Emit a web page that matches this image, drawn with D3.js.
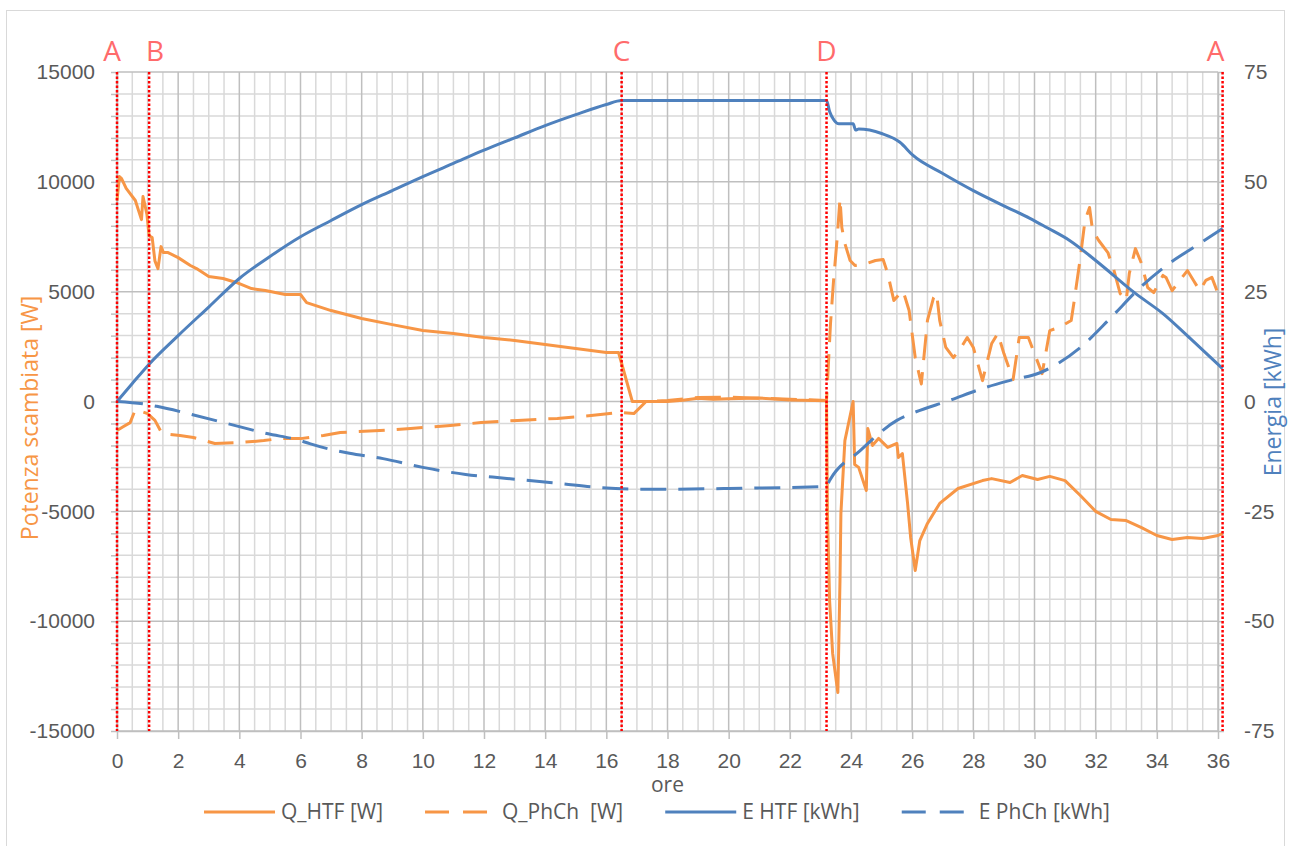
<!DOCTYPE html>
<html>
<head>
<meta charset="utf-8">
<script src="https://cdn.jsdelivr.net/npm/d3@7"></script>
<style>
    html, body { margin: 0; padding: 0; background: #fff; }
    svg { display: block; font-family: "Open Sans", sans-serif; }
</style>
</head>
<body>
<svg id="chart" width="1292" height="846"></svg>
<script>
// --- Data (hours, value) ---
const qHtf = [
    [0, 9150], [0.08, 10240], [0.15, 10150], [0.3, 9700], [0.6, 9150], [0.8, 8280], [0.85, 9330],
    [0.92, 8900], [0.98, 8500], [1.05, 7550], [1.15, 7460], [1.24, 6400], [1.34, 6050], [1.44, 7050],
    [1.52, 6780], [1.67, 6780], [2.0, 6550], [2.4, 6190], [2.6, 6050], [3.0, 5690], [3.47, 5600],
    [3.9, 5420], [4.4, 5140], [4.85, 5050], [5.5, 4870], [6.0, 4870], [6.2, 4500], [7, 4140],
    [8, 3780], [9, 3500], [10, 3230], [11, 3100], [12, 2910], [13, 2780], [14, 2590], [15, 2410],
    [16, 2230], [16.4, 2230], [16.85, 0], [18, 0], [18.5, 60], [19, 150], [19.5, 100], [20, 120],
    [21, 160], [22, 70], [23.2, 30], [23.23, -5100], [23.3, -9060], [23.4, -11470], [23.57, -13250],
    [23.64, -8150], [23.67, -5100], [23.8, -1780], [24.07, 0], [24.12, -2870], [24.25, -3000],
    [24.5, -4050], [24.55, -1230], [24.7, -2000], [24.9, -1680], [25.2, -2090], [25.5, -1910],
    [25.55, -2550], [25.68, -2370], [25.85, -4640], [25.95, -6190], [26.1, -7690], [26.25, -6330],
    [26.5, -5550], [26.9, -4640], [27.5, -3960], [28.3, -3600], [28.6, -3510], [29.2, -3690],
    [29.6, -3370], [30.1, -3550], [30.5, -3410], [31, -3600], [31.5, -4280], [32, -5000],
    [32.5, -5370], [33, -5420], [33.5, -5740], [34, -6100], [34.5, -6280], [35, -6190],
    [35.5, -6240], [36, -6100], [36.15, -6000]
];

const qPhCh = [
    [0, -1320], [0.2, -1150], [0.43, -960], [0.6, -360], [1.0, -550], [1.24, -860], [1.47, -1460],
    [2.06, -1550], [2.5, -1640], [3.2, -1910], [4.0, -1870], [4.8, -1780], [5.3, -1690], [6, -1690],
    [6.75, -1550], [7.3, -1410], [8.6, -1320], [9.6, -1230], [10.9, -1090], [11.9, -960],
    [13.1, -860], [14.4, -770], [15.5, -640], [16.45, -500], [16.9, -550], [17.3, 0], [18, 50],
    [19, 180], [20, 200], [21, 150], [22, 100], [23.2, 50], [23.25, 1400], [23.33, 3550],
    [23.43, 5510], [23.55, 7470], [23.64, 9240], [23.7, 7920], [23.8, 7190], [23.97, 6420],
    [24.13, 6190], [24.5, 6280], [24.8, 6420], [25.05, 6460], [25.2, 5830], [25.4, 4600],
    [25.6, 4920], [25.7, 5050], [25.9, 4140], [26.1, 2000], [26.3, 800], [26.5, 3690], [26.7, 4730],
    [26.8, 4920], [26.9, 3690], [27.1, 2460], [27.35, 2000], [27.6, 2460], [27.8, 2910],
    [28.0, 2460], [28.3, 950], [28.6, 2640], [28.8, 3100], [29.0, 2180], [29.3, 1000], [29.5, 2910],
    [29.8, 2910], [30.25, 1270], [30.5, 3230], [30.8, 3370], [31.2, 3690], [31.3, 4600],
    [31.5, 6550], [31.65, 8240], [31.8, 8830], [31.9, 7780], [32.1, 7330], [32.4, 6780],
    [32.6, 5960], [32.8, 4920], [33.0, 4600], [33.1, 5830], [33.3, 6960], [33.5, 6280],
    [33.7, 5190], [33.9, 4960], [34.2, 5740], [34.3, 5650], [34.5, 5050], [34.8, 5600],
    [35.0, 5960], [35.2, 5510], [35.4, 5050], [35.6, 5510], [35.8, 5650], [36.0, 4920], [36.15, 4730]
];

const eHtf = [
    [0, 0], [0.5, 4.1], [1.05, 8.5], [2, 15], [3, 21.5], [4, 28], [5, 33], [6, 37.5], [7, 41.2],
    [8, 44.8], [9, 48], [10, 51.2], [11, 54.2], [12, 57.2], [13, 60], [14, 62.8], [15, 65.3],
    [16, 67.6], [16.5, 68.5], [23.2, 68.5], [23.3, 66], [23.45, 64], [23.6, 63.2], [24.07, 63.2],
    [24.15, 61.8], [24.25, 62], [25, 61], [25.6, 59], [26.03, 56], [27, 51.9], [28, 48],
    [29.1, 44.2], [29.85, 41.7], [30.4, 39.6], [31.16, 36.6], [32, 32.1], [33.3, 24.6],
    [34.2, 20], [35.1, 14.3], [36.15, 7.5]
];

const ePhCh = [
    [0, 0], [1, -0.7], [1.3, -1.1], [2.3, -2.7], [3.6, -5], [4.9, -7.3], [6, -8.9], [6.3, -9.6],
    [7.6, -11.8], [8.7, -13], [10, -15], [11.4, -16.6], [12.75, -17.5], [14.5, -18.7],
    [15.8, -19.6], [17.3, -20], [20, -19.8], [23.2, -19.3], [23.3, -18], [24.3, -11.2],
    [25.5, -4.3], [26, -2.7], [27.2, 0.2], [28.4, 3.2], [29.2, 4.8], [30.2, 6.6], [31.5, 12.3],
    [32.5, 19.1], [33.45, 25.9], [34.4, 31.4], [35.3, 35.5], [36.15, 39.4]
];

const xTicks      = [0, 2, 4, 6, 8, 10, 12, 14, 16, 18, 20, 22, 24, 26, 28, 30, 32, 34, 36];
const leftTicks   = [-15000, -10000, -5000, 0, 5000, 10000, 15000];
const rightTicks  = [-75, -50, -25, 0, 25, 50, 75];
const markerNames = ['A', 'B', 'C', 'D', 'A'];
const markerHours = [0, 1.05, 16.5, 23.2, 36.15];
const seriesNames = ['Q_HTF [W]', 'Q_PhCh  [W]', 'E HTF [kWh]', 'E PhCh [kWh]'];

// --- Style ---
const ORANGE = '#F79646';
const BLUE   = '#4F81BD';
const TEXT   = '#595959';
const DASH   = '26 12';

const svg = d3.select('#chart');

// outer chart frame
svg.append('rect')
    .attr('x', 6.5).attr('y', 10.5)
    .attr('width', 1278).attr('height', 840)
    .attr('fill', '#fff')
    .attr('stroke', '#D9D9D9');

const x  = d3.scaleLinear().domain([0, 36]).range([117, 1218]);
const yL = d3.scaleLinear().domain([-15000, 15000]).range([731, 72]);
const yR = d3.scaleLinear().domain([-75, 75]).range([731, 72]);

const [x0, x1] = x.range();
const [yb, yt] = yL.range();

// --- Grid ---
const grid = svg.append('g');
const minorX = d3.range(0, 36.01, 0.5).filter(h => h % 2 !== 0);
const minorY = d3.range(-15000, 15001, 1000).filter(v => v % 5000 !== 0);

grid.selectAll('line.mx').data(minorX).join('line')
    .attr('x1', d => x(d)).attr('x2', d => x(d))
    .attr('y1', yt).attr('y2', yb)
    .attr('stroke', '#D9D9D9').attr('stroke-width', 1.5);

grid.selectAll('line.my').data(minorY).join('line')
    .attr('x1', x0).attr('x2', x1)
    .attr('y1', d => yL(d)).attr('y2', d => yL(d))
    .attr('stroke', '#D9D9D9').attr('stroke-width', 1.5);

grid.selectAll('line.MX').data(xTicks).join('line')
    .attr('x1', d => x(d)).attr('x2', d => x(d))
    .attr('y1', yt).attr('y2', yb)
    .attr('stroke', '#BFBFBF').attr('stroke-width', 1.5);

grid.selectAll('line.MY').data(leftTicks).join('line')
    .attr('x1', x0).attr('x2', x1)
    .attr('y1', d => yL(d)).attr('y2', d => yL(d))
    .attr('stroke', '#BFBFBF').attr('stroke-width', 1.5);

// --- Axes ---
function styleAxis(g) {
    g.selectAll('path, line').attr('stroke', '#BFBFBF').attr('stroke-width', 1.5);
    g.selectAll('text').attr('fill', TEXT).attr('font-size', 21);
}

svg.append('g')
    .attr('transform', `translate(0,${yb})`)
    .call(d3.axisBottom(x).tickValues(xTicks).tickSize(8).tickPadding(14).tickSizeOuter(0))
    .call(styleAxis);

svg.append('g')
    .attr('transform', `translate(${x0},0)`)
    .call(d3.axisLeft(yL)
        .tickValues(d3.range(-15000, 15001, 1000))
        .tickFormat(d => leftTicks.includes(d) ? d : '')
        .tickSize(6).tickPadding(16).tickSizeOuter(0))
    .call(styleAxis);

svg.append('g')
    .attr('transform', `translate(${x1},0)`)
    .call(d3.axisRight(yR)
        .tickValues(d3.range(-75, 76, 5))
        .tickFormat(d => rightTicks.includes(d) ? d : '')
        .tickSize(6).tickPadding(20).tickSizeOuter(0))
    .call(styleAxis);

// axis titles
svg.append('text')
    .attr('transform', `translate(38,418) rotate(-90)`)
    .attr('text-anchor', 'middle')
    .attr('font-size', 23)
    .attr('fill', ORANGE)
    .text('Potenza scambiata [W]');

svg.append('text')
    .attr('transform', `translate(1281,402) rotate(-90)`)
    .attr('text-anchor', 'middle')
    .attr('font-size', 23)
    .attr('fill', BLUE)
    .text('Energia [kWh]');

svg.append('text')
    .attr('x', (x0 + x1) / 2).attr('y', 792)
    .attr('text-anchor', 'middle')
    .attr('font-size', 21)
    .attr('fill', TEXT)
    .text('ore');

// --- Series ---
const lineL = d3.line().x(d => x(d[0])).y(d => yL(d[1]));
const lineR = d3.line().x(d => x(d[0])).y(d => yR(d[1])).curve(d3.curveMonotoneX);

const series = [
    { data: qHtf,  gen: lineL, color: ORANGE, dash: null },
    { data: qPhCh, gen: lineL, color: ORANGE, dash: DASH },
    { data: eHtf,  gen: lineR, color: BLUE,   dash: null },
    { data: ePhCh, gen: lineR, color: BLUE,   dash: DASH },
];

svg.append('g').selectAll('path').data(series).join('path')
    .attr('d', s => s.gen(s.data))
    .attr('fill', 'none')
    .attr('stroke', s => s.color)
    .attr('stroke-width', 3)
    .attr('stroke-linejoin', 'round')
    .attr('stroke-dasharray', s => s.dash);

// --- Phase markers ---
const markers = markerHours.map((h, i) => ({ h, name: markerNames[i] }));
const mk = svg.append('g');

mk.selectAll('line').data(markers).join('line')
    .attr('x1', d => x(d.h)).attr('x2', d => x(d.h))
    .attr('y1', yt).attr('y2', yb)
    .attr('stroke', '#FF0000')
    .attr('stroke-width', 2.5)
    .attr('stroke-dasharray', '2.5 2');

mk.selectAll('text').data(markers).join('text')
    .attr('x', (d, i) => x(d.h) + (i === 0 ? -5 : i === 1 ? 6 : i === markers.length - 1 ? -7 : 0))
    .attr('y', 61)
    .attr('text-anchor', 'middle')
    .attr('font-size', 28)
    .attr('fill', '#FF6B6B')
    .text(d => d.name);

// --- Legend ---
const legend = svg.append('g');
const SAMPLE = 71, GAP_TXT = 6, GAP_ITEM = 42;
let cursor = 0;
series.forEach((s, i) => {
    const g = legend.append('g');
    g.append('line')
        .attr('x1', 0).attr('x2', SAMPLE)
        .attr('y1', 0).attr('y2', 0)
        .attr('stroke', s.color).attr('stroke-width', 3)
        .attr('stroke-dasharray', s.dash ? '24 14' : null);
    const t = g.append('text')
        .attr('x', SAMPLE + GAP_TXT).attr('y', 7)
        .attr('font-size', 21)
        .attr('fill', TEXT)
        .style('white-space', 'pre')
        .text(seriesNames[i]);
    g.attr('transform', `translate(${cursor},0)`);
    cursor += SAMPLE + GAP_TXT + t.node().getComputedTextLength() + GAP_ITEM;
});
const legendW = cursor - GAP_ITEM;
legend.attr('transform', `translate(${657 - legendW / 2},812)`);
</script>
</body>
</html>
